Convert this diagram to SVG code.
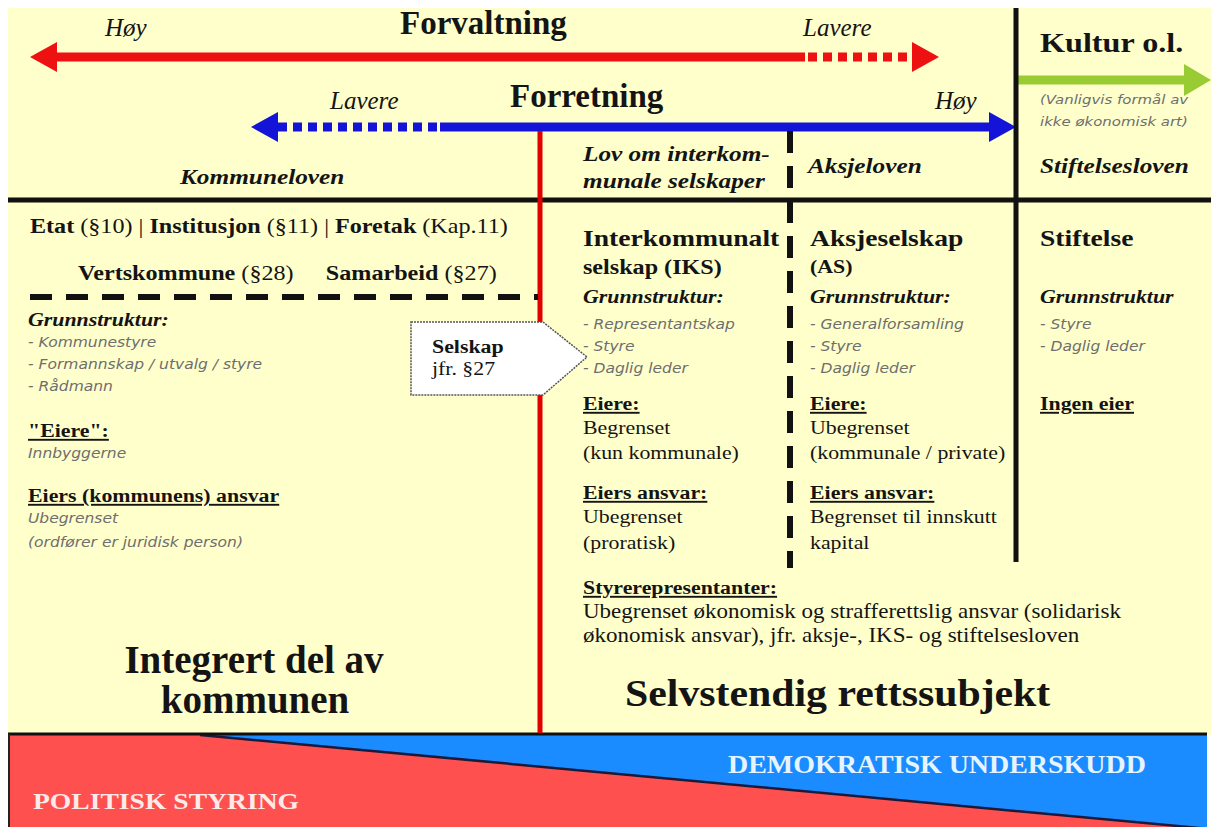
<svg xmlns="http://www.w3.org/2000/svg" width="1211" height="827" viewBox="0 0 1211 827">
<style>
.s{font-family:"Liberation Serif","Times New Roman",serif;fill:#141414}
.b{font-weight:bold}
.i{font-style:italic}
.bi{font-weight:bold;font-style:italic}
.g{font-family:"DejaVu Sans","Verdana",sans-serif;font-style:italic;fill:#6e6e6e;font-size:13.5px}
.u{text-decoration:underline}
.n{font-weight:normal}
</style>
<defs>
<marker id="hr" markerUnits="userSpaceOnUse" markerWidth="28" markerHeight="30" refX="1" refY="15" orient="auto"><path d="M0,0 L27,15 L0,30 z" fill="#ee1111"/></marker>
<marker id="hb" markerUnits="userSpaceOnUse" markerWidth="28" markerHeight="30" refX="1" refY="15" orient="auto"><path d="M0,0 L27,15 L0,30 z" fill="#1414d8"/></marker>
<marker id="hg" markerUnits="userSpaceOnUse" markerWidth="28" markerHeight="32" refX="1" refY="16" orient="auto"><path d="M0,0 L27,16 L0,32 z" fill="#99cc33"/></marker>
</defs>
<rect x="0" y="0" width="1211" height="827" fill="#ffffff"/>
<rect x="8" y="8" width="1203" height="727" fill="#ffffcc"/>

<g id="bottom-band">
<rect x="8" y="734" width="1199" height="93" fill="#1a8cff"/>
<polygon points="8,735 200,735 1210,829 8,829" fill="#ff5050"/>
<line x1="200" y1="735" x2="1210" y2="829" stroke="#1a1a3a" stroke-width="2.5"/>
<line x1="8" y1="734" x2="1207" y2="734" stroke="#111" stroke-width="3"/>
<line x1="9" y1="734" x2="9" y2="827" stroke="#222" stroke-width="2"/>
<text class="s b" x="728" y="773" font-size="26" style="fill:#e6f4ff" transform="matrix(1.075 0 0 1 -54.6 0)">DEMOKRATISK UNDERSKUDD</text>
<text class="s b" x="33" y="809" font-size="24" style="fill:#ffeaea" transform="matrix(1.15 0 0 1 -4.95 0)">POLITISK STYRING</text>
</g>

<g id="connectors">
<path d="M805,57 L56,57" stroke="#ee1111" stroke-width="9" fill="none" marker-end="url(#hr)"/>
<path d="M808,57 L913,57" stroke="#ee1111" stroke-width="9" fill="none" stroke-dasharray="9 6" marker-end="url(#hr)"/>
<path d="M440,127 L990,127" stroke="#1414d8" stroke-width="9" fill="none" marker-end="url(#hb)"/>
<path d="M437,127 L277,127" stroke="#1414d8" stroke-width="9" fill="none" stroke-dasharray="9 6" marker-end="url(#hb)"/>
<path d="M1018,80 L1185,80" stroke="#99cc33" stroke-width="9" fill="none" marker-end="url(#hg)"/>
<line x1="1016" y1="8" x2="1016" y2="562" stroke="#111" stroke-width="5"/>
<line x1="8" y1="200" x2="1211" y2="200" stroke="#111" stroke-width="5"/>
<line x1="540" y1="131" x2="540" y2="733" stroke="#e00000" stroke-width="5"/>
<line x1="790" y1="131" x2="790" y2="568" stroke="#111" stroke-width="6" stroke-dasharray="22 13"/>
<line x1="30" y1="297" x2="538" y2="297" stroke="#111" stroke-width="6" stroke-dasharray="22 14"/>
</g>

<g id="header-forvaltning">
<text class="s b" x="400" y="34" font-size="33">Forvaltning</text>
<text class="s i" x="105" y="36" font-size="25">Høy</text>
<text class="s i" x="803" y="36" font-size="25">Lavere</text>
</g>
<g id="header-forretning">
<text class="s b" x="510" y="107" font-size="33">Forretning</text>
<text class="s i" x="330" y="109" font-size="25">Lavere</text>
<text class="s i" x="935" y="109" font-size="25">Høy</text>
</g>
<g id="header-kultur" transform="matrix(1.15 0 0 1 -156 0)">
<text class="s b" x="1040" y="52" font-size="28">Kultur o.l.</text>
<text class="g" x="1040" y="104" style="font-size:13px">(Vanligvis formål av</text>
<text class="g" x="1040" y="126" style="font-size:13px">ikke økonomisk art)</text>
<text class="s bi" x="1040" y="173" font-size="22">Stiftelsesloven</text>
</g>
<g id="law-kommuneloven" transform="matrix(1.15 0 0 1 -27 0)">
<text class="s bi" x="180" y="184" font-size="22">Kommuneloven</text>
</g>
<g id="law-iks" transform="matrix(1.15 0 0 1 -87.45 0)">
<text class="s bi" x="583" y="161" font-size="22">Lov om interkom-</text>
<text class="s bi" x="583" y="188" font-size="22">munale selskaper</text>
</g>
<g id="law-aksjeloven" transform="matrix(1.15 0 0 1 -121.2 0)">
<text class="s bi" x="808" y="173" font-size="22">Aksjeloven</text>
</g>

<g id="col-kommune" transform="matrix(1.15 0 0 1 -4.2 0)">
<text class="s b" x="29.7" y="233" font-size="21">Etat <tspan class="n">(§10) | </tspan>Institusjon <tspan class="n">(§11) | </tspan>Foretak <tspan class="n">(Kap.11)</tspan></text>
<text class="s b" x="71.5" y="280" font-size="21">Vertskommune <tspan class="n">(§28)</tspan></text>
<text class="s b" x="287" y="280" font-size="21">Samarbeid <tspan class="n">(§27)</tspan></text>
<text class="s bi" x="28" y="326" font-size="19">Grunnstruktur:</text>
<text class="g" x="28" y="347">- Kommunestyre</text>
<text class="g" x="28" y="369">- Formannskap / utvalg / styre</text>
<text class="g" x="28" y="391">- Rådmann</text>
<text class="s b u" x="28" y="437" font-size="19">"Eiere":</text>
<text class="g" x="28" y="458">Innbyggerne</text>
<text class="s b u" x="28" y="502" font-size="19">Eiers (kommunens) ansvar</text>
<text class="g" x="28" y="523">Ubegrenset</text>
<text class="g" x="28" y="547">(ordfører er juridisk person)</text>
</g>
<g id="label-integrert">
<text class="s b" x="254" y="673" font-size="39" text-anchor="middle">Integrert del av</text>
<text class="s b" x="255" y="713" font-size="39" text-anchor="middle">kommunen</text>
</g>

<g id="callout-selskap">
<polygon points="411,322 543,322 587,357 543,395 411,395" fill="#ffffff" stroke="#555" stroke-width="1.5" stroke-dasharray="2 1"/>
<g transform="matrix(1.15 0 0 1 -64.8 0)">
<text class="s b" x="432" y="353" font-size="19">Selskap</text>
<text class="s" x="432" y="375" font-size="19">jfr. §27</text>
</g>
</g>

<g id="col-iks" transform="matrix(1.15 0 0 1 -87.45 0)">
<text class="s b" x="583" y="246" font-size="24">Interkommunalt</text>
<text class="s b" x="583" y="274" font-size="21">selskap (IKS)</text>
<text class="s bi" x="583" y="303" font-size="19">Grunnstruktur:</text>
<text class="g" x="583" y="329">- Representantskap</text>
<text class="g" x="583" y="351">- Styre</text>
<text class="g" x="583" y="373">- Daglig leder</text>
<text class="s b u" x="583" y="410" font-size="19">Eiere:</text>
<text class="s" x="583" y="434" font-size="19">Begrenset</text>
<text class="s" x="583" y="459" font-size="19">(kun kommunale)</text>
<text class="s b u" x="583" y="499" font-size="19">Eiers ansvar:</text>
<text class="s" x="583" y="523" font-size="19">Ubegrenset</text>
<text class="s" x="583" y="549" font-size="19">(proratisk)</text>
</g>

<g id="col-as" transform="matrix(1.15 0 0 1 -121.5 0)">
<text class="s b" x="810" y="246" font-size="24">Aksjeselskap</text>
<text class="s b" x="810" y="273" font-size="19">(AS)</text>
<text class="s bi" x="810" y="303" font-size="19">Grunnstruktur:</text>
<text class="g" x="810" y="329">- Generalforsamling</text>
<text class="g" x="810" y="351">- Styre</text>
<text class="g" x="810" y="373">- Daglig leder</text>
<text class="s b u" x="810" y="410" font-size="19">Eiere:</text>
<text class="s" x="810" y="434" font-size="19">Ubegrenset</text>
<text class="s" x="810" y="459" font-size="19">(kommunale / private)</text>
<text class="s b u" x="810" y="499" font-size="19">Eiers ansvar:</text>
<text class="s" x="810" y="523" font-size="19">Begrenset til innskutt</text>
<text class="s" x="810" y="549" font-size="19">kapital</text>
</g>

<g id="col-stiftelse" transform="matrix(1.15 0 0 1 -156 0)">
<text class="s b" x="1040" y="246" font-size="24">Stiftelse</text>
<text class="s bi" x="1040" y="303" font-size="19">Grunnstruktur</text>
<text class="g" x="1040" y="329">- Styre</text>
<text class="g" x="1040" y="351">- Daglig leder</text>
<text class="s b u" x="1040" y="410" font-size="19">Ingen eier</text>
</g>

<g id="styrerepresentanter" transform="matrix(1.15 0 0 1 -87.45 0)">
<text class="s b u" x="583" y="594" font-size="19">Styrerepresentanter:</text>
<text class="s" x="583" y="618" font-size="20">Ubegrenset økonomisk og strafferettslig ansvar (solidarisk</text>
<text class="s" x="583" y="642" font-size="20">økonomisk ansvar), jfr. aksje-, IKS- og stiftelsesloven</text>
</g>
<g id="label-selvstendig" transform="matrix(1.1 0 0 1 -62.5 0)">
<text class="s b" x="625" y="706" font-size="38">Selvstendig rettssubjekt</text>
</g>
</svg>
